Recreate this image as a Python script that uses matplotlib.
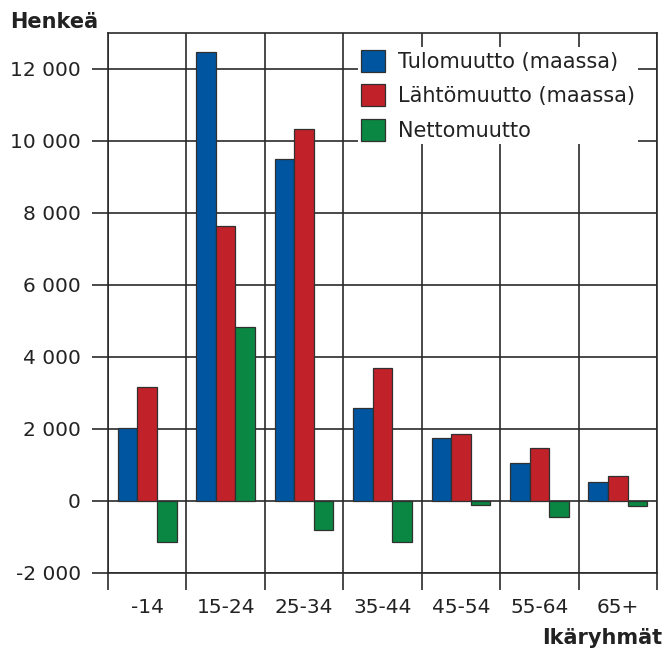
import matplotlib
matplotlib.use("Agg")
import matplotlib.pyplot as plt
import numpy as np

categories = ["-14", "15-24", "25-34", "35-44", "45-54", "55-64", "65+"]
tulomuutto = [2030, 12470, 9510, 2570, 1755, 1045, 535]
lahtomuutto = [3170, 7640, 10320, 3695, 1850, 1480, 685]
nettomuutto = [-1140, 4830, -815, -1150, -120, -445, -150]
series_names = ["Tulomuutto (maassa)", "Lähtömuutto (maassa)", "Nettomuutto"]
yticks = [-2000, 0, 2000, 4000, 6000, 8000, 10000, 12000]
ytick_labels = ["-2 000", "0", "2 000", "4 000", "6 000", "8 000", "10 000", "12 000"]

colors = ["#0055A0", "#C1222A", "#0A8742"]
line_c = "#2a2a2a"
fs = 14.5

plt.rcParams['font.family'] = ['DejaVu Sans']
fig = plt.figure(figsize=(6.67, 6.5), dpi=100)
ax = fig.add_axes([108/667, 1-573/650, 549/667, 540/650])

x = np.arange(len(categories))
w = 0.25
for i, (vals, c, name) in enumerate(zip([tulomuutto, lahtomuutto, nettomuutto], colors, series_names)):
    ax.bar(x + (i-1)*w, vals, width=w, color=c, edgecolor="#303030", linewidth=0.9, label=name, zorder=3)

ax.set_xlim(-0.5, len(categories)-0.5)
ax.set_ylim(-2000, 13000)
ax.set_yticks(yticks)
ax.set_yticklabels(ytick_labels, fontsize=fs, color="#222")
ax.tick_params(axis='y', length=11.5, width=1.2, color=line_c, pad=8)

ax.set_xticks(np.arange(len(categories)+1) - 0.5)
ax.set_xticklabels([])
ax.tick_params(axis='x', which='major', length=12, width=1.2, color=line_c)
ax.set_xticks(x, minor=True)
ax.set_xticklabels(categories, minor=True, fontsize=fs, color="#222")
ax.tick_params(axis='x', which='minor', length=0, pad=18)

ax.set_axisbelow(True)
ax.grid(True, which='major', color=line_c, linewidth=1.2)
for s in ax.spines.values():
    s.set_color(line_c)
    s.set_linewidth(1.2)

leg = ax.legend(loc='upper left', bbox_to_anchor=(0.437, 0.993), fontsize=15,
                frameon=True, facecolor='white', edgecolor='none', framealpha=1,
                handlelength=1.15, handleheight=1.25, handletextpad=0.6,
                labelspacing=0.58, borderpad=0.15, fancybox=False)
leg.set_zorder(5)
for t in leg.get_texts():
    t.set_color("#222")

fig.text(10/667, 1-22/650, "Henkeä", fontsize=15, fontweight='bold', va='center', ha='left', color="#222")
fig.text(662/667, 1-638/650, "Ikäryhmät", fontsize=15, fontweight='bold', va='center', ha='right', color="#222")

fig.savefig("out.png", dpi=100)
